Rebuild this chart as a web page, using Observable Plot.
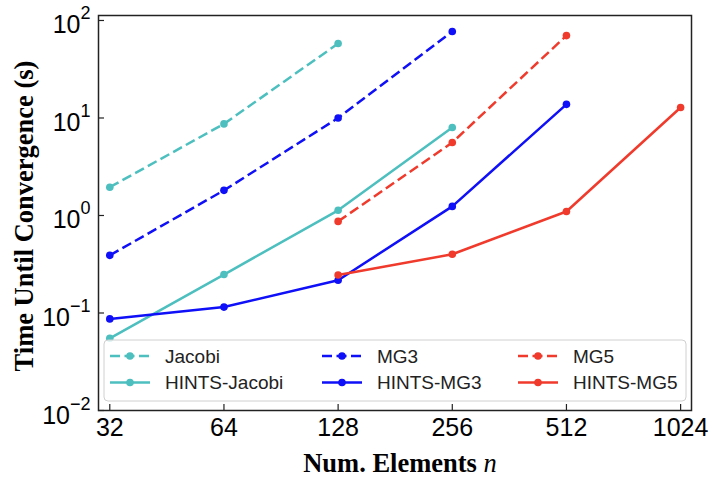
<!DOCTYPE html>
<html>
<head>
<meta charset="utf-8">
<script src="https://cdn.jsdelivr.net/npm/d3@7"></script>
<script src="https://cdn.jsdelivr.net/npm/@observablehq/plot@0.6"></script>
<style>
  html, body { margin: 0; padding: 0; background: white; }
  #chart { width: 712px; height: 483px; }
</style>
</head>
<body>
<div id="chart"></div>
<script>
// ---- data ----
const xTicks = [32, 64, 128, 256, 512, 1024];
const yTicks = [0.01, 0.1, 1, 10, 100];

const nJacobi = [32, 64, 128];
const tJacobi = [1.95, 8.7, 58];
const nHintsJacobi = [32, 64, 128, 256];
const tHintsJacobi = [0.055, 0.248, 1.13, 8.0];
const nMG3 = [32, 64, 128, 256];
const tMG3 = [0.39, 1.81, 10, 77];
const nHintsMG3 = [32, 64, 128, 256, 512];
const tHintsMG3 = [0.087, 0.115, 0.217, 1.24, 13.8];
const nMG5 = [128, 256, 512];
const tMG5 = [0.87, 5.6, 70];
const nHintsMG5 = [128, 256, 512, 1024];
const tHintsMG5 = [0.245, 0.40, 1.10, 12.8];

const seriesNames = ["Jacobi", "HINTS-Jacobi", "MG3", "HINTS-MG3", "MG5", "HINTS-MG5"];

// ---- styles ----
const cyan = "#4dbfbf", blue = "#0f0ff8", red = "#ef3a2c";
const styles = {
  "Jacobi":       {color: cyan, dash: "10,4.5"},
  "HINTS-Jacobi": {color: cyan, dash: null},
  "MG3":          {color: blue, dash: "10,4.5"},
  "HINTS-MG3":    {color: blue, dash: null},
  "MG5":          {color: red,  dash: "10,4.5"},
  "HINTS-MG5":    {color: red,  dash: null}
};

const seriesData = {
  "Jacobi": [nJacobi, tJacobi],
  "HINTS-Jacobi": [nHintsJacobi, tHintsJacobi],
  "MG3": [nMG3, tMG3],
  "HINTS-MG3": [nHintsMG3, tHintsMG3],
  "MG5": [nMG5, tMG5],
  "HINTS-MG5": [nHintsMG5, tHintsMG5]
};

const rows = name => seriesData[name][0].map((n, i) => ({n, t: seriesData[name][1][i], name}));

const seriesMarks = seriesNames.flatMap(name => {
  const s = styles[name];
  return [
    Plot.line(rows(name), {x: "n", y: "t", stroke: s.color, strokeWidth: 2.5, strokeDasharray: s.dash, strokeLinecap: "butt"}),
    Plot.dot(rows(name), {x: "n", y: "t", r: 3.8, fill: s.color, stroke: "none"})
  ];
});

const chart = Plot.plot({
  width: 712,
  height: 483,
  marginLeft: 98,
  marginRight: 21,
  marginTop: 15,
  marginBottom: 73,
  style: {fontFamily: "'Liberation Sans', Arial, sans-serif", fontSize: "25px", color: "#000", background: "white", overflow: "visible"},
  x: {type: "log", base: 2, domain: [29.88, 1094]},
  y: {type: "log", domain: [0.01, 112.5]},
  marks: [
    ...seriesMarks,
    Plot.frame({stroke: "#222", strokeWidth: 1.5}),
    Plot.axisX({ticks: xTicks, tickFormat: d => String(d), tickSize: -6, tickPadding: 14, label: null, fontSize: 25, stroke: "#222", strokeWidth: 1.2}),
    Plot.axisY({ticks: yTicks, tickFormat: d => "10^" + Math.round(Math.log10(d)), tickSize: -6, tickPadding: 14, label: null, fontSize: 25, stroke: "#222", strokeWidth: 1.2})
  ]
});

document.getElementById("chart").appendChild(chart);

const svg = d3.select(chart);

// superscript y tick labels
svg.selectAll('g[aria-label="y-axis tick label"] text').each(function() {
  const s = this.textContent;
  const e = s.split("^")[1].replace("-", "\u2212");
  const t = d3.select(this);
  t.text(null);
  t.append("tspan").attr("dy", 5).text("10");
  t.append("tspan").attr("font-size", "18px").attr("dy", -14).text(e);
});

// axis titles
svg.append("text")
  .attr("x", 400).attr("y", 472)
  .attr("text-anchor", "middle")
  .attr("font-family", "'Liberation Serif', 'Times New Roman', serif")
  .attr("font-weight", "bold").attr("font-size", 26.5).attr("fill", "#000")
  .call(t => {
    t.append("tspan").text("Num. Elements ");
    t.append("tspan").attr("font-style", "italic").attr("font-weight", "normal").text("n");
  });

svg.append("text")
  .attr("transform", "translate(33,216) rotate(-90)")
  .attr("text-anchor", "middle")
  .attr("font-family", "'Liberation Serif', 'Times New Roman', serif")
  .attr("font-weight", "bold").attr("font-size", 26.5).attr("fill", "#000")
  .text("Time Until Convergence (s)");

// legend
const lg = svg.append("g").attr("font-family", "'Liberation Sans', Arial, sans-serif").attr("font-size", 19).attr("text-anchor", "start");
lg.append("rect").attr("x", 104).attr("y", 340).attr("width", 582).attr("height", 61)
  .attr("rx", 4).attr("fill", "white").attr("fill-opacity", 0.8).attr("stroke", "#d0d0d0").attr("stroke-width", 1);
const colX = [110, 322, 518];
const rowY = [356, 382.5];
seriesNames.forEach((name, i) => {
  const s = styles[name];
  const x0 = colX[Math.floor(i / 2)], y0 = rowY[i % 2];
  lg.append("line").attr("x1", x0).attr("x2", x0 + 40).attr("y1", y0).attr("y2", y0)
    .attr("stroke", s.color).attr("stroke-width", 2.5).attr("stroke-dasharray", s.dash ? "10,4.5" : null);
  lg.append("circle").attr("cx", x0 + 20).attr("cy", y0).attr("r", 3.8).attr("fill", s.color);
  lg.append("text").attr("x", x0 + 55).attr("y", y0).attr("dy", "0.35em").attr("text-anchor", "start").attr("fill", "#222").text(name);
});
</script>
</body>
</html>
